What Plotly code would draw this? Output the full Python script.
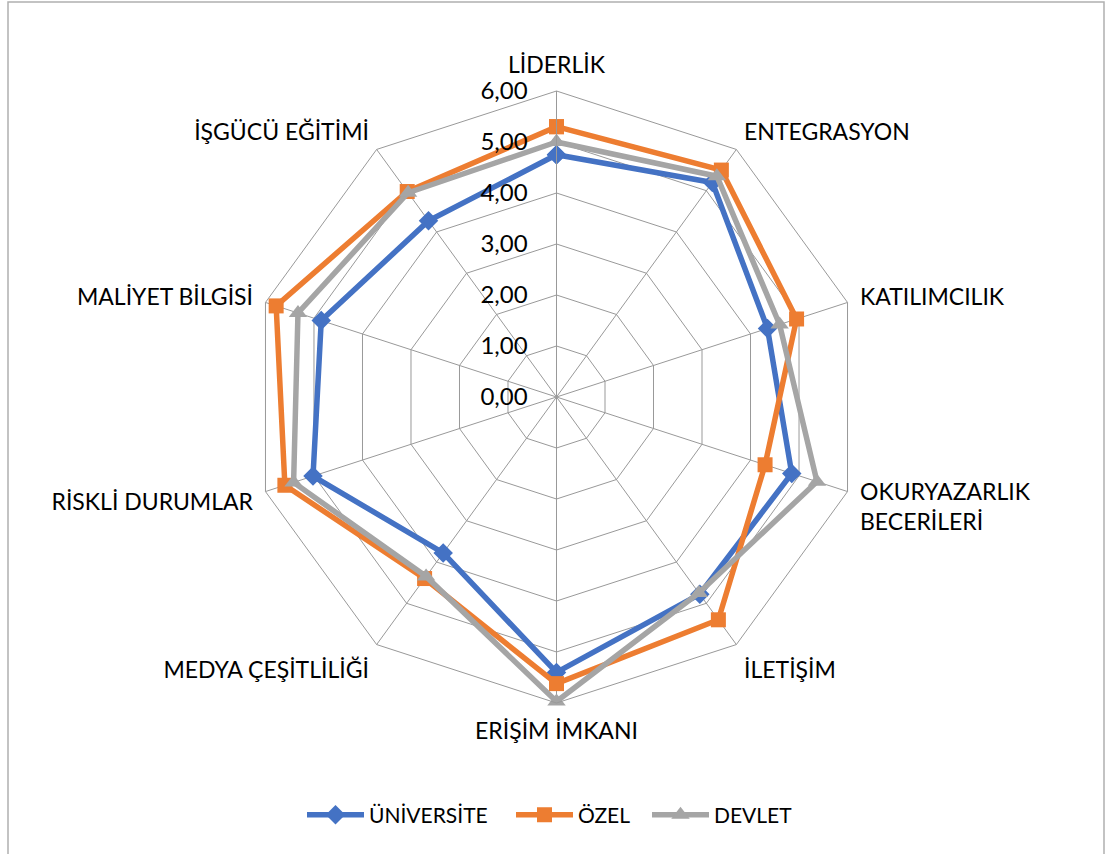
import plotly.graph_objects as go

categories = ["LİDERLİK", "ENTEGRASYON", "KATILIMCILIK", "OKURYAZARLIK<br>BECERİLERİ",
              "İLETİŞİM", "ERİŞİM İMKANI", "MEDYA ÇEŞİTLİLİĞİ", "RİSKLİ DURUMLAR",
              "MALİYET BİLGİSİ", "İŞGÜCÜ EĞİTİMİ"]
universite = [4.75, 5.2, 4.35, 4.85, 4.78, 5.4, 3.78, 5.02, 4.85, 4.27]
ozel = [5.3, 5.5, 4.95, 4.3, 5.4, 5.62, 4.4, 5.6, 5.78, 4.98]
devlet = [5.0, 5.35, 4.6, 5.37, 4.75, 5.97, 4.35, 5.42, 5.33, 4.95]

series = [("ÜNİVERSİTE", universite, "#4472C4", "diamond", 15, "legend", 310),
          ("ÖZEL", ozel, "#ED7D31", "square", 15, "legend2", 519),
          ("DEVLET", devlet, "#A5A5A5", "triangle-up", 16, "legend3", 655)]

FONT = "Lato"
W, H = 1105, 854
cx, cy, R = 556.5, 397, 306

fig = go.Figure()
legends = {}
for name, vals, color, sym, size, leg, lx in series:
    fig.add_trace(go.Scatterpolar(
        r=vals + [vals[0]], theta=categories + [categories[0]],
        mode="lines+markers", name=name, legend=leg, showlegend=True,
        line=dict(color=color, width=5.5),
        marker=dict(symbol=sym, size=size, color=color),
    ))
    legends[leg] = dict(orientation="h", x=(lx - 8) / W, xanchor="left", y=(H - 815) / H,
                        yanchor="middle", itemwidth=57, bgcolor="rgba(0,0,0,0)",
                        font=dict(family=FONT, size=21, color="#000000"))

fig.update_layout(
    width=W, height=H,
    margin=dict(l=0, r=0, t=0, b=0),
    showlegend=True,
    paper_bgcolor="white", plot_bgcolor="white",
    separators=",.",
    font=dict(family=FONT, size=23, color="#000000"),
    polar=dict(
        domain=dict(x=[(cx - R) / W, (cx + R) / W], y=[(H - cy - R) / H, (H - cy + R) / H]),
        gridshape="linear",
        bgcolor="white",
        radialaxis=dict(range=[0, 6], dtick=1, tickformat=".2f", angle=90, tickangle=90,
                        side="counterclockwise", showline=True, linecolor="#999999",
                        gridcolor="#999999", gridwidth=1, ticks="outside", ticklen=20,
                        tickcolor="rgba(0,0,0,0)",
                        tickfont=dict(family=FONT, size=24, color="#000000")),
        angularaxis=dict(rotation=90, direction="clockwise", showline=True,
                         linecolor="#999999", gridcolor="#999999",
                         ticks="outside", ticklen=8, tickcolor="rgba(0,0,0,0)",
                         tickfont=dict(family=FONT, size=23, color="#000000")),
    ),
    shapes=[dict(type="rect", xref="paper", yref="paper",
                 x0=8 / W, x1=1104 / W, y0=-0.05, y1=(H - 2) / H,
                 line=dict(color="#B0B0B0", width=1.5))],
    **legends,
)
fig.write_html("out.html", config={"displayModeBar": False},
               post_script="document.body.style.margin='0px';document.body.style.overflow='hidden';")
